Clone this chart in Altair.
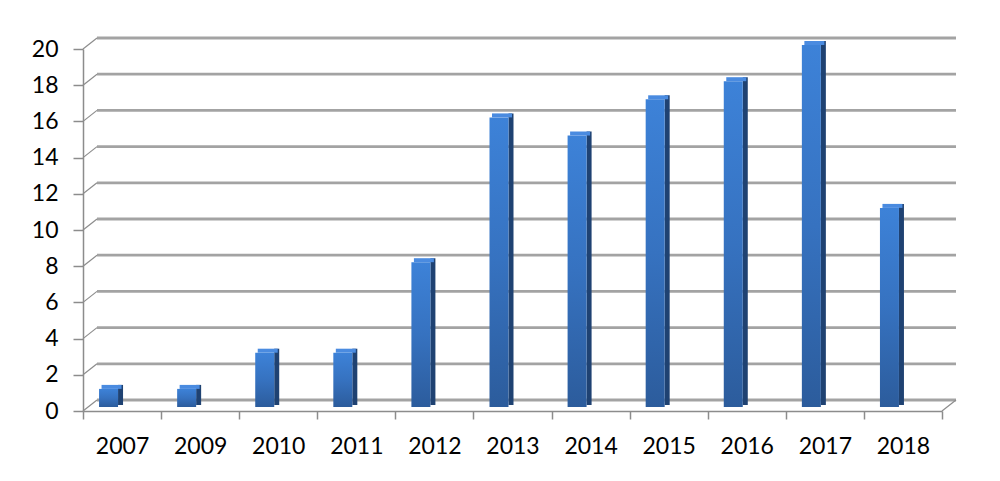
import altair as alt
import pandas as pd

# --- data ---
years = ["2007", "2009", "2010", "2011", "2012", "2013", "2014", "2015", "2016", "2017", "2018"]
counts = [1, 1, 3, 3, 8, 16, 15, 17, 18, 20, 11]
y_ticks = [0, 2, 4, 6, 8, 10, 12, 14, 16, 18, 20]

# --- layout ---
PLOT_W = 859
PLOT_H = 362
DEPTH_X = 14      # back wall shift to the right
DEPTH_Y = -11     # back wall shift upwards
FONT = "Lato"
FONT_SIZE = 23
GRID_COLOR = "#a3a3a3"
AXIS_COLOR = "#8c8c8c"

df = pd.DataFrame({"year": years, "count": counts})
grid_df = pd.DataFrame({"tick": y_ticks})

x_enc = alt.X(
    "year:N",
    sort=years,
    scale=alt.Scale(paddingInner=0, paddingOuter=0),
    axis=alt.Axis(
        title=None,
        labelAngle=0,
        tickBand="extent",
        labelFont=FONT,
        labelFontSize=FONT_SIZE,
        labelColor="#000000",
        labelPadding=16,
        tickSize=8,
        tickColor=AXIS_COLOR,
        tickWidth=1.5,
        domainColor=AXIS_COLOR,
        domainWidth=1.5,
    ),
)
y_scale = alt.Scale(domain=[0, 20], nice=False)
y_axis = alt.Axis(
    title=None,
    values=y_ticks,
    grid=False,
    labelOverlap=False,
    labelFont=FONT,
    labelFontSize=FONT_SIZE,
    labelColor="#000000",
    labelPadding=15,
    tickSize=10,
    tickColor=AXIS_COLOR,
    tickWidth=1.5,
    domainColor=AXIS_COLOR,
    domainWidth=1.5,
)


def y_enc(field):
    return alt.Y(field, scale=y_scale, axis=y_axis)


# back wall gridlines
grid = alt.Chart(grid_df).mark_rule(
    color=GRID_COLOR, strokeWidth=2.8, yOffset=DEPTH_Y, y2Offset=DEPTH_Y
).encode(
    y=y_enc("tick:Q"),
    y2="tick:Q",
    x=alt.value(DEPTH_X),
    x2=alt.value(PLOT_W + DEPTH_X),
)

# short diagonals linking the front axis to the back wall
diag = alt.Chart(grid_df).mark_rule(
    color=AXIS_COLOR, strokeWidth=1.2, y2Offset=DEPTH_Y
).encode(
    y=y_enc("tick:Q"),
    y2="tick:Q",
    x=alt.value(0),
    x2=alt.value(DEPTH_X),
)

floor_edge = alt.Chart(grid_df[grid_df["tick"] == 0]).mark_rule(
    color=AXIS_COLOR, strokeWidth=1.2, y2Offset=DEPTH_Y
).encode(
    y=y_enc("tick:Q"),
    y2="tick:Q",
    x=alt.value(PLOT_W),
    x2=alt.value(PLOT_W + DEPTH_X),
)

front_grad = alt.Gradient(
    gradient="linear",
    stops=[
        alt.GradientStop(color="#3d82d8", offset=0),
        alt.GradientStop(color="#3672c0", offset=0.5),
        alt.GradientStop(color="#2c5c9c", offset=1),
    ],
    x1=0, x2=0, y1=0, y2=1,
)

front = alt.Chart(df).mark_bar(
    size=19, xOffset=-13.5, yOffset=-4, y2Offset=-4, color=front_grad
).encode(
    x=x_enc,
    y=y_enc("count:Q"),
    y2=alt.datum(0),
)

side = alt.Chart(df).mark_bar(
    size=5, xOffset=-1.5, yOffset=-8, y2Offset=-6, color="#1f4272"
).encode(
    x=x_enc,
    y=y_enc("count:Q"),
    y2=alt.datum(0),
)

top = alt.Chart(df).mark_bar(
    size=20, xOffset=-10.5, yOffset=-8, y2Offset=-4, color="#4a8be0"
).encode(
    x=x_enc,
    y=y_enc("count:Q"),
    y2="count:Q",
)

chart = alt.layer(grid, diag, floor_edge, side, front, top).properties(
    width=PLOT_W,
    height=PLOT_H,
    background="white",
    autosize=alt.AutoSizeParams(type="none"),
    padding={"left": 75, "top": 41, "right": 50, "bottom": 60},
).configure_view(strokeWidth=0).configure_axisY(labelOverlap=False)

chart.save("out.html", embed_options={"renderer": "svg", "actions": False})
